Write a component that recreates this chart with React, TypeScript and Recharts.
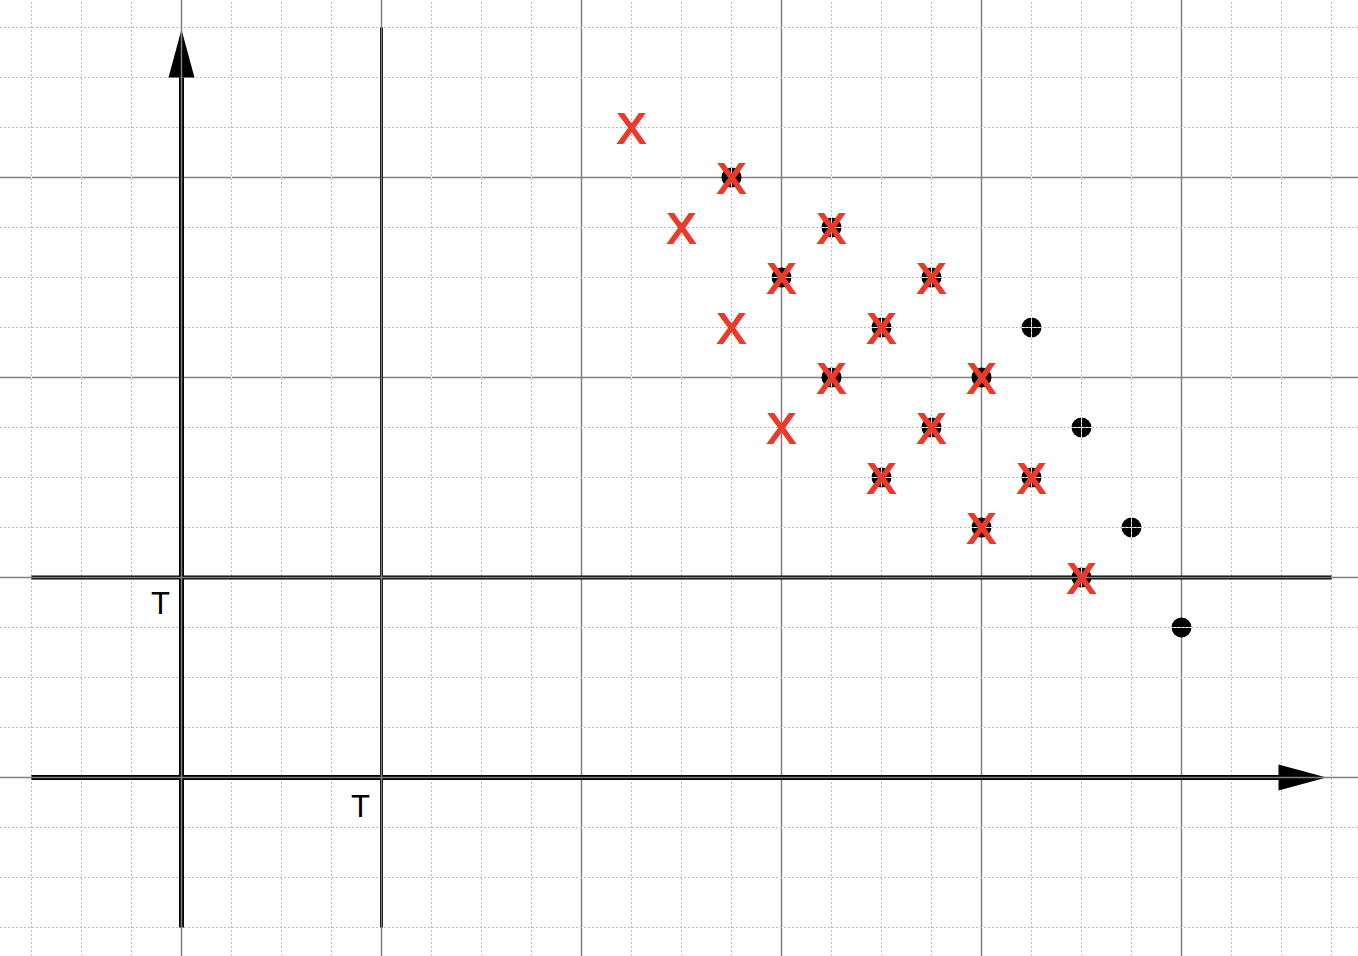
import { ScatterChart, Scatter, XAxis, YAxis, ReferenceLine, ReferenceDot } from "recharts";

// black points (grid units, 1 unit = one small square)
const dotXs = [11, 13, 12, 15, 14, 17, 13, 16, 15, 18, 14, 17, 16, 19, 18, 20];
const dotYs = [12, 11, 10, 10, 9, 9, 8, 8, 7, 7, 6, 6, 5, 5, 4, 3];

// red crosses
const crossXs = [9, 11, 10, 13, 12, 15, 11, 14, 13, 16, 12, 15, 14, 17, 16, 18];
const crossYs = [13, 12, 11, 11, 10, 10, 9, 9, 8, 8, 7, 7, 6, 6, 5, 4];

// grid
const minorXs = [-3, -2, -1, 1, 2, 3, 5, 6, 7, 9, 10, 11, 13, 14, 15, 17, 18, 19, 21, 22, 23];
const minorYs = [-3, -2, -1, 1, 2, 3, 5, 6, 7, 9, 10, 11, 13, 14, 15];
const majorXs = [8, 12, 16, 20];
const majorYs = [8, 12];
const axisXs = [0, 4];
const axisYs = [0, 4];

// the two "T" marks
const labelXs = [0, 4];
const labelYs = [4, 0];
const labelTexts = ["T", "T"];

const dots = dotXs.map((x, i) => ({ x, y: dotYs[i] }));
const crosses = crossXs.map((x, i) => ({ x, y: crossYs[i] }));

const RED = "#ea3a2b";
const MAJOR = "#808080";
const MINOR = "#bdbdbd";

const Dot = (props: any) => <circle cx={props.cx} cy={props.cy} r={10} fill="#000" />;

const Cross = (props: any) => (
  <text
    x={props.cx}
    y={props.cy + 15}
    textAnchor="middle"
    fontFamily="Liberation Sans, Arial, sans-serif"
    fontSize={42}
    fill={RED}
    stroke={RED}
    strokeWidth={2}
  >
    X
  </text>
);

export default function App() {
  return (
    <div style={{ position: "absolute", left: 0, top: 0, background: "#fff" }}>
      <ScatterChart width={1358} height={956} margin={{ top: 0, right: 0, bottom: 0, left: 0 }}>
        <XAxis type="number" dataKey="x" domain={[-3.63, 23.53]} hide allowDataOverflow />
        <YAxis type="number" dataKey="y" domain={[-3.57, 15.55]} hide allowDataOverflow />

        {/* major grid lines under the points */}
        {majorXs.map((v) => (
          <ReferenceLine key={"mx" + v} x={v} stroke={MAJOR} strokeWidth={1.5} zIndex={10} />
        ))}
        {majorYs.map((v) => (
          <ReferenceLine key={"my" + v} y={v} stroke={MAJOR} strokeWidth={1.5} zIndex={10} />
        ))}

        <Scatter data={dots} shape={<Dot />} isAnimationActive={false} zIndex={20} />

        {/* dotted minor grid, white underneath so it shows on the black points */}
        {minorXs.map((v) => (
          <ReferenceLine key={"wx" + v} x={v} stroke="#fff" strokeWidth={1} zIndex={30} />
        ))}
        {minorYs.map((v) => (
          <ReferenceLine key={"wy" + v} y={v} stroke="#fff" strokeWidth={1} zIndex={30} />
        ))}
        {minorXs.map((v) => (
          <ReferenceLine key={"nx" + v} x={v} stroke={MINOR} strokeWidth={1} strokeDasharray="2 2" zIndex={31} />
        ))}
        {minorYs.map((v) => (
          <ReferenceLine key={"ny" + v} y={v} stroke={MINOR} strokeWidth={1} strokeDasharray="2 2" zIndex={31} />
        ))}

        {/* axes */}
        <ReferenceLine segment={[{ x: -3, y: 0 }, { x: 22, y: 0 }]} stroke="#000" strokeWidth={5} zIndex={40} />
        <ReferenceLine segment={[{ x: 0, y: -3 }, { x: 0, y: 14 }]} stroke="#000" strokeWidth={5} zIndex={40} />
        <ReferenceLine segment={[{ x: -3, y: 4 }, { x: 23, y: 4 }]} stroke="#000" strokeWidth={4} zIndex={40} />
        <ReferenceLine segment={[{ x: 4, y: -3 }, { x: 4, y: 15 }]} stroke="#000" strokeWidth={3} zIndex={40} />
        <ReferenceDot
          x={0}
          y={14}
          zIndex={41}
          shape={(p: any) => (
            <polygon points={`${p.cx - 13},${p.cy} ${p.cx + 13},${p.cy} ${p.cx},${p.cy - 48}`} fill="#000" />
          )}
        />
        <ReferenceDot
          x={22}
          y={0}
          zIndex={41}
          shape={(p: any) => (
            <polygon points={`${p.cx - 3},${p.cy - 13} ${p.cx - 3},${p.cy + 13} ${p.cx + 45},${p.cy}`} fill="#000" />
          )}
        />
        {axisXs.map((v) => (
          <ReferenceLine key={"ax" + v} x={v} stroke={MAJOR} strokeWidth={1.5} zIndex={50} />
        ))}
        {axisYs.map((v) => (
          <ReferenceLine key={"ay" + v} y={v} stroke={MAJOR} strokeWidth={1.5} zIndex={50} />
        ))}

        <Scatter data={crosses} shape={<Cross />} isAnimationActive={false} zIndex={60} />

        {labelXs.map((v, i) => (
          <ReferenceDot
            key={"lb" + i}
            x={v}
            y={labelYs[i]}
            zIndex={70}
            shape={(p: any) => (
              <text
                x={p.cx - 21}
                y={p.cy + (i === 0 ? 36 : 39)}
                textAnchor="middle"
                fontFamily="Liberation Sans, Arial, sans-serif"
                fontSize={31}
                fill="#000"
              >
                {labelTexts[i]}
              </text>
            )}
          />
        ))}
      </ScatterChart>
    </div>
  );
}
